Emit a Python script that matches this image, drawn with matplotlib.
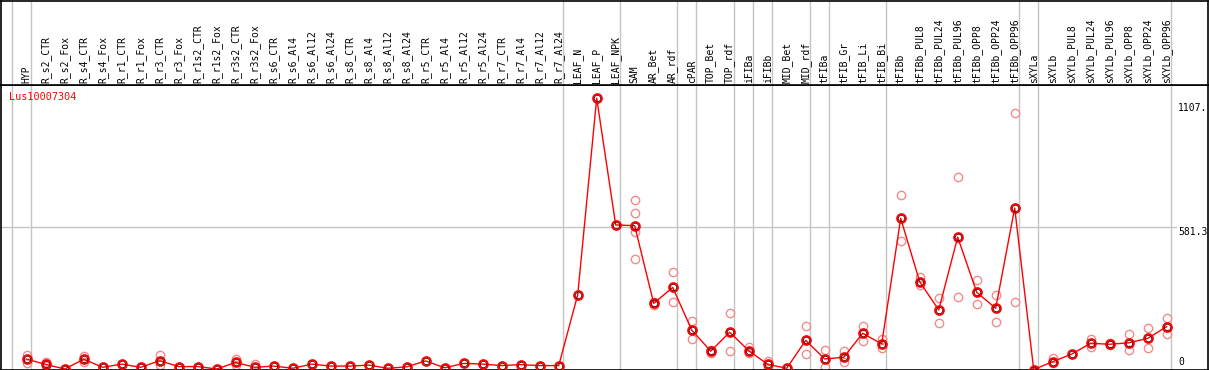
import matplotlib
matplotlib.use("Agg")
import matplotlib.pyplot as plt

categories = ["HYP", "R_s2_CTR", "R_s2_Fox", "R_s4_CTR", "R_s4_Fox", "R_r1_CTR", "R_r1_Fox",
              "R_r3_CTR", "R_r3_Fox", "R_r1s2_CTR", "R_r1s2_Fox", "R_r3s2_CTR", "R_r3s2_Fox",
              "R_s6_CTR", "R_s6_Al4", "R_s6_Al12", "R_s6_Al24", "R_s8_CTR", "R_s8_Al4",
              "R_s8_Al12", "R_s8_Al24", "R_r5_CTR", "R_r5_Al4", "R_r5_Al12", "R_r5_Al24",
              "R_r7_CTR", "R_r7_Al4", "R_r7_Al12", "R_r7_Al24", "LEAF_N", "LEAF_P", "LEAF_NPK",
              "SAM", "AR_Bet", "AR_rdf", "cPAR", "TOP_Bet", "TOP_rdf", "iFIBa", "iFIBb",
              "MID_Bet", "MID_rdf", "tFIBa", "tFIB_Gr", "tFIB_Li", "tFIB_Bi", "tFIBb",
              "tFIBb_PUL8", "tFIBb_PUL24", "tFIBb_PUL96", "tFIBb_OPP8", "tFIBb_OPP24",
              "tFIBb_OPP96", "sXYLa", "sXYLb", "sXYLb_PUL8", "sXYLb_PUL24", "sXYLb_PUL96",
              "sXYLb_OPP8", "sXYLb_OPP24", "sXYLb_OPP96"]

means = [42, 21, 2, 42, 9, 22, 9, 36, 12, 12,
         2, 29, 9, 14, 5, 22, 14, 14, 18, 5,
         11, 35, 7, 25, 22, 16, 20, 16, 16,
         304, 1107, 590, 587, 270, 335, 161, 75, 152, 77,
         21, 5, 119, 43, 50, 148, 104, 617, 358, 243,
         540, 315, 250, 659, 0, 32, 63, 107, 103, 109,
         127, 175]

replicates = [[59, 27], [32, 15], [], [55, 32], [], [], [], [59, 18], [], [],
              [], [42, 18], [22], [], [], [], [], [], [], [],
              [], [], [], [], [], [], [], [], [],
              [], [], [], [692, 637, 562, 450], [275, 262], [398, 274], [197, 123], [80, 68], [229, 75], [93, 69],
              [36, 8], [], [178, 63], [80, 11], [77, 32], [178, 118], [123, 86], [711, 523], [379, 345], [291, 189],
              [784, 295], [364, 267], [304, 193], [1046, 274], [], [46, 28], [], [123, 93], [107, 100], [144, 78],
              [168, 86], [209, 145]]

group_ends = ["HYP", "R_r7_Al24", "LEAF_NPK", "AR_rdf", "cPAR", "TOP_rdf", "iFIBa", "iFIBb",
              "MID_rdf", "tFIBa", "tFIB_Bi", "tFIBb_OPP96", "sXYLa", "sXYLb_OPP96"]

gene = "Lus10007304"
ytick_values = [1107, 581.3, 0]
ytick_labels = ["1107.", "581.3", "0"]

W, H = 1209, 370
fig = plt.figure(figsize=(W / 100, H / 100), dpi=100)
mono = "DejaVu Sans Mono"
fs = 7.0

x0 = 1 / W
wfrac = 1207 / W
sep = 85
ax = fig.add_axes([x0, 0, wfrac, (H - sep) / H])
hdr = fig.add_axes([x0, (H - sep) / H, wfrac, (sep - 0.5) / H])

xlim = ((1 - 26.7) / 19, (1208 - 26.7) / 19)
for a in (ax, hdr):
    a.set_xlim(*xlim)
    a.set_xticks([])
    a.set_yticks([])
    for s in a.spines.values():
        s.set_color("black")
        s.set_linewidth(1.2)
ax.set_ylim(-2.0, 1161.0)
hdr.set_ylim(0, 1)

idx = list(range(len(categories)))
grid_c = "#c4c4c4"
bounds = [-1] + [categories.index(c) for c in group_ends]
for b in bounds:
    for a in (ax, hdr):
        a.axvline(b + 0.2, color=grid_c, lw=1.0, zorder=0.5)

ax.axhline(ytick_values[1], xmin=0, xmax=(1176 - 1) / 1207, color=grid_c, lw=1.0, zorder=0.5)

# replicates
rx, ry = [], []
for i, reps in enumerate(replicates):
    for v in reps:
        rx.append(i)
        ry.append(v)
ax.plot(rx, ry, linestyle="none", marker="o", ms=6.0, mfc="none", mec="#f08c8c", mew=1.0, zorder=2)

# mean line
ax.plot(idx, means, color="red", lw=1.0, zorder=3)
ax.plot(idx, means, linestyle="none", marker="o", ms=6.4, mfc="none", mec="red", mew=1.3, zorder=4)
ax.plot(idx, means, linestyle="none", marker="o", ms=4.6, mfc="none", mec="#550000", mew=0.6, zorder=5)

# column labels
for i, c in enumerate(categories):
    hdr.annotate(c, xy=(i, 0), xycoords=("data", "axes fraction"), xytext=(0, 2),
                 textcoords="offset pixels", rotation=90, ha="center", va="bottom",
                 family=mono, fontsize=fs, color="black")

# gene label
ax.annotate(gene, xy=(0, 1), xycoords="axes fraction", xytext=(8.3, -11.7),
            textcoords="offset pixels", ha="left", va="center", family=mono,
            fontsize=fs + 0.3, color="red")

# right value labels
offs = [-9.4, -5.2, 8.0]
for v, lab, o in zip(ytick_values, ytick_labels, offs):
    ax.annotate(lab, xy=(1, v), xycoords=("axes fraction", "data"),
                xytext=(-(1208 - 1178), o), textcoords="offset pixels",
                ha="left", va="center", family=mono, fontsize=fs, color="black",
                annotation_clip=False)

fig.savefig("out.png", dpi=100)
